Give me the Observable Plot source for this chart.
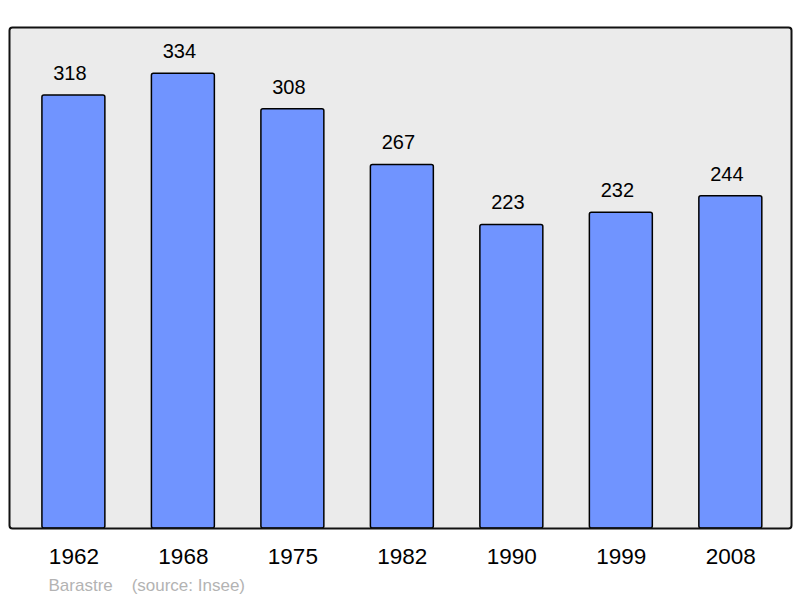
<!DOCTYPE html>
<html><head><meta charset="utf-8">
<script src="https://cdn.jsdelivr.net/npm/d3@7"></script>
<script src="https://cdn.jsdelivr.net/npm/@observablehq/plot@0.6"></script>
<style>body{margin:0;background:#fff;} svg{display:block;}</style>
</head><body><div id="chart"></div>
<script>
const years = ["1962","1968","1975","1982","1990","1999","2008"];
const population = [318,334,308,267,223,232,244];
const captionText = ["Barastre\u00a0\u00a0\u00a0\u00a0(source: Insee)"];

const data = years.map((y,i)=>({year:y, pop:population[i]}));

const chart = Plot.plot({
  width: 800, height: 598,
  marginLeft: 9, marginRight: 9, marginTop: 27, marginBottom: 70,
  style: {fontFamily: "'Liberation Sans', Arial, sans-serif", background: "#fff"},
  x: {domain: years, paddingInner: 0.425, paddingOuter: 0.2836, align: 0.53, round: false, label: null},
  y: {domain: [0, 368], axis: null},
  marks: [
    Plot.frame({fill: "#ebebeb", stroke: "none", rx: 3}),
    Plot.barY(data, {x: "year", y: "pop", fill: "#7094ff", stroke: "#000", strokeWidth: 1.5, rx: 2}),
    Plot.frame({stroke: "#111", strokeWidth: 2, rx: 3}),
    Plot.text(data, {x: "year", y: "pop", text: d => String(d.pop), dx: -4, dy: -22, fontSize: 20, fill: "#000"}),
    Plot.axisX({tickSize: 0, tickPadding: 19.5, fontSize: 22.5, fill: "#000", label: null}),
    Plot.text(captionText, {frameAnchor: "bottom-left", text: d => d, dx: 39, dy: 62, fontSize: 17, fill: "#b3b3b3", textAnchor: "start"})
  ]
});
document.getElementById("chart").append(chart);
</script></body></html>
